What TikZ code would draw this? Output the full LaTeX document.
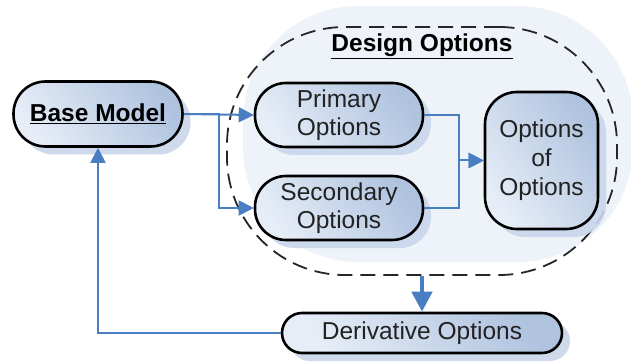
\documentclass[tikz,border=0pt]{standalone}
\usepackage{fontspec}
\setmainfont{Liberation Sans}
\usetikzlibrary{shadows,arrows.meta}
\definecolor{lnblue}{HTML}{4A7EC2}
\definecolor{halo}{HTML}{EEF3FA}
\definecolor{shad}{HTML}{C9D7EB}
\definecolor{fillA}{HTML}{E6EDF7}
\definecolor{fillB}{HTML}{AFC3DF}
\definecolor{txt}{HTML}{222222}
\begin{document}
\begin{tikzpicture}[x=1pt,y=-1pt,
  every node/.style={text=txt, align=center, inner sep=0pt},
  nfont/.style={font=\fontsize{24.5}{28}\selectfont},
  box/.style={draw=black, line width=2.6pt, left color=fillA, right color=fillB, shading angle=125,
    drop shadow={shadow xshift=8pt, shadow yshift=-8pt, fill=shad, opacity=0.9}},
  conn/.style={draw=lnblue, line width=2pt, -{Triangle[length=15pt,width=15pt]}},
  bigconn/.style={draw=lnblue, line width=4.5pt, -{Triangle[length=20pt,width=20pt]}}]
\useasboundingbox (0,0) rectangle (631,363);
\fill[white] (0,0) rectangle (631,363);
% halo behind design options
\node[fill=halo, rounded corners=115pt, minimum width=390pt, minimum height=256pt] (halo) at (438,134) {};
\node[draw=black!85, line width=1.8pt, dash pattern=on 15pt off 8pt, rounded corners=118pt,
  minimum width=390pt, minimum height=248pt] (design) at (422,151) {};
\node[font=\fontsize{24.5}{28}\selectfont\bfseries, text=black] (title) at (422,46) {\underline{Design Options}};
% nodes
\node[box, rounded corners=32pt, minimum width=169pt, minimum height=65pt,
  font=\fontsize{24.5}{28}\selectfont\bfseries, text=black] (base) at (98,114) {\underline{Base Model}};
\node[box, nfont, rounded corners=31pt, minimum width=168pt, minimum height=64pt] (prim) at (339,115) {Primary\\Options};
\node[box, nfont, rounded corners=31pt, minimum width=168pt, minimum height=64pt] (sec) at (339,208) {Secondary\\Options};
\node[box, rounded corners=32pt, minimum width=113pt, minimum height=137pt,
  font=\fontsize{24.5}{29}\selectfont] (ooo) at (541.5,160.5) {Options\\of\\Options};
\node[box, nfont, rounded corners=20pt, minimum width=280pt, minimum height=40pt] (deriv) at (422,333) {Derivative Options};
% connectors
\draw[conn] (base.east) -- (prim.west);
\draw[conn] (base.east) -- ++(35,0) |- (sec.west);
\draw[conn] (prim.east) -- ++(35,0) |- (ooo.west);
\draw[conn] (sec.east) -- ++(35,0) |- (ooo.west);
\draw[bigconn] (design.south) -- (deriv.north);
\draw[conn] (deriv.west) -| (base.south);
\end{tikzpicture}
\end{document}
